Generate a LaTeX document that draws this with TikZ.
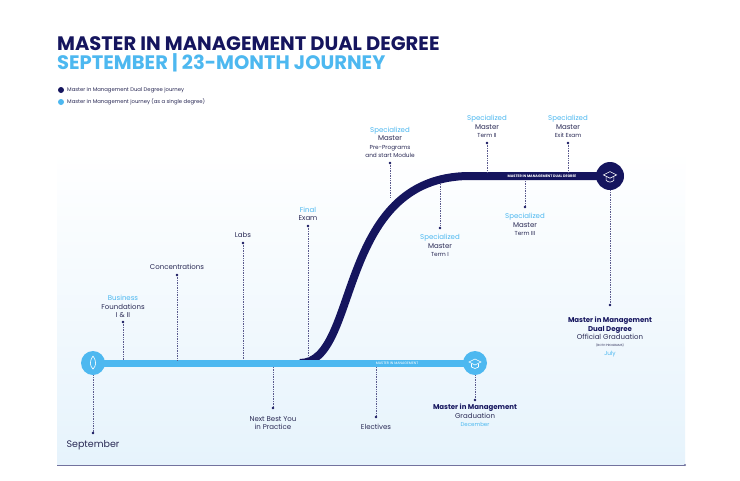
\documentclass[tikz,border=0pt]{standalone}
\usepackage{fontspec}
\setmainfont{Poppins}
\usetikzlibrary{arrows.meta}
\definecolor{navy}{HTML}{15155E}
\definecolor{sky}{HTML}{4DB8F0}
\definecolor{bgb}{HTML}{E6F3FC}
\definecolor{txt}{HTML}{2A2A55}
\tikzset{
 stem/.style={navy!70,densely dotted,line width=0.7pt},
 tdot/.style={circle,fill=navy,inner sep=0pt,minimum size=2.6pt},
 lab/.style={align=center,text=txt,font=\fontsize{7}{8.5}\selectfont,inner sep=0pt},
}
\newcommand{\bl}[1]{\textcolor{sky}{#1}}
\begin{document}
\begin{tikzpicture}[x=1pt,y=-1pt]
\useasboundingbox (0,0) rectangle (740,480);
\fill[white] (0,0) rectangle (740,480);
\shade[top color=white,bottom color=bgb] (57,150) rectangle (685,465);
\draw[navy!60,line width=1pt] (57,465) -- (685,465);
\fill[navy!60] (685,465) circle (1.2);
% titles
\node[anchor=base west,font=\bfseries\fontsize{19.5}{19.5}\selectfont,text=navy,inner sep=0pt] (t1) at (57,50) {MASTER IN MANAGEMENT DUAL DEGREE};
\node[anchor=base west,font=\bfseries\fontsize{19.5}{19.5}\selectfont,text=sky,inner sep=0pt] (t2) at (57,69) {SEPTEMBER | 23-MONTH JOURNEY};
\node[circle,fill=navy,inner sep=0pt,minimum size=6pt] (d1) at (61,90) {};
\node[circle,fill=sky,inner sep=0pt,minimum size=6pt] (d2) at (61,102) {};
\node[anchor=west,font=\fontsize{5.3}{6}\selectfont,text=txt,inner sep=0pt] (l1) at (67,90) {Master in Management Dual Degree journey};
\node[anchor=west,font=\fontsize{5.3}{6}\selectfont,text=txt,inner sep=0pt] (l2) at (67,102) {Master in Management journey (as a single degree)};
% lines
\draw[navy,line width=8pt] (300,363) .. controls (360,363) and (335,176) .. (470,176) -- (610,176);
\draw[sky,line width=7pt] (93,363) -- (475,363);
\node[font=\fontsize{3.5}{4}\selectfont,text=white] (mm) at (397,363) {MASTER IN MANAGEMENT};
\node[font=\bfseries\fontsize{3.5}{4}\selectfont,text=white] (mmd) at (542,176) {MASTER IN MANAGEMENT DUAL DEGREE};
\node[circle,fill=sky,minimum size=24pt,inner sep=0pt] (c0) at (93,363) {};
\node[circle,fill=sky,minimum size=24pt,inner sep=0pt] (c1) at (475,363) {};
\node[circle,fill=navy,minimum size=28pt,inner sep=0pt] (c2) at (610,176) {};
% icons
\draw[white,line width=0.6pt] (93,356) .. controls (89,362) and (90,366) .. (93,369) .. controls (96,366) and (97,362) .. (93,356);
\foreach \c/\s in {c1/1,c2/1.1}{
 \begin{scope}[shift={(\c)},scale=\s]
 \draw[white,line width=0.6pt] (-6,-1) -- (0,-4) -- (6,-1) -- (0,2) -- cycle;
 \draw[white,line width=0.6pt] (-3.5,0.5) -- (-3.5,4) .. controls (-1,6) and (1,6) .. (3.5,4) -- (3.5,0.5);
 \end{scope}}
% stems and labels above light line
\node[tdot] (p1) at (123,322) {}; \coordinate (q1) at (123,360); \draw[stem] (p1)--(q1);
\node[lab,anchor=south] (L1) at (123,318) {\bl{Business}\\Foundations\\I \& II};
\node[tdot] (p2) at (177,275) {}; \coordinate (q2) at (177,360); \draw[stem] (p2)--(q2);
\node[lab,anchor=south] (L2) at (177,270) {Concentrations};
\node[tdot] (p3) at (243,243) {}; \coordinate (q3) at (243,360); \draw[stem] (p3)--(q3);
\node[lab,anchor=south] (L3) at (243,238) {Labs};
\node[tdot] (p4) at (308,226) {}; \coordinate (q4) at (308,357); \draw[stem] (p4)--(q4);
\node[lab,anchor=south] (L4) at (308,221) {\bl{Final}\\Exam};
% below light line
\coordinate (q5) at (273,367); \node[tdot] (p5) at (273,408) {}; \draw[stem] (q5)--(p5);
\node[lab,anchor=north] (L5) at (273,416) {Next Best You\\in Practice};
\coordinate (q6) at (376,367); \node[tdot] (p6) at (376,417) {}; \draw[stem] (q6)--(p6);
\node[lab,anchor=north] (L6) at (376,424) {Electives};
\node[tdot] (p7) at (475,400) {}; \draw[stem] (c1)--(p7);
\node[lab,anchor=north] (L7) at (475,404) {\textbf{\textcolor{navy}{Master in Management}}\\Graduation\\\bl{\fontsize{5.5}{7}\selectfont December}};
\node[tdot] (p8) at (93,433) {}; \draw[stem] (c0)--(p8);
\node[lab,anchor=north,font=\fontsize{9.5}{10}\selectfont] (L8) at (93,440) {September};
% dark line stems
\node[tdot] (p9) at (390,163) {}; \coordinate (q9) at (390,198); \draw[stem] (p9)--(q9);
\node[lab,anchor=south] (L9) at (390,158) {\bl{Specialized}\\Master\\{\fontsize{5.8}{7}\selectfont Pre-Programs}\\{\fontsize{5.8}{7}\selectfont and start Module}};
\node[tdot] (p10) at (487,143) {}; \coordinate (q10) at (487,172); \draw[stem] (p10)--(q10);
\node[lab,anchor=south] (L10) at (487,138) {\bl{Specialized}\\Master\\{\fontsize{5.8}{7}\selectfont Term II}};
\node[tdot] (p11) at (568,143) {}; \coordinate (q11) at (568,172); \draw[stem] (p11)--(q11);
\node[lab,anchor=south] (L11) at (568,138) {\bl{Specialized}\\Master\\{\fontsize{5.8}{7}\selectfont Exit Exam}};
\coordinate (q12) at (440,184); \node[tdot] (p12) at (440,228) {}; \draw[stem] (q12)--(p12);
\node[lab,anchor=north] (L12) at (440,234) {\bl{Specialized}\\Master\\{\fontsize{5.8}{7}\selectfont Term I}};
\coordinate (q13) at (525,181); \node[tdot] (p13) at (525,207) {}; \draw[stem] (q13)--(p13);
\node[lab,anchor=north] (L13) at (525,213) {\bl{Specialized}\\Master\\{\fontsize{5.8}{7}\selectfont Term III}};
\node[tdot] (p14) at (610,305) {}; \draw[stem] (c2)--(p14);
\node[lab,anchor=north] (L14) at (610,317) {\textbf{\textcolor{navy}{Master in Management}}\\\textbf{\textcolor{navy}{Dual Degree}}\\Official Graduation\\[-2pt]{\fontsize{3}{4}\selectfont (BOTH PROGRAMS)}\\[1pt]\bl{\fontsize{5.8}{7}\selectfont July}};
\end{tikzpicture}
\end{document}
